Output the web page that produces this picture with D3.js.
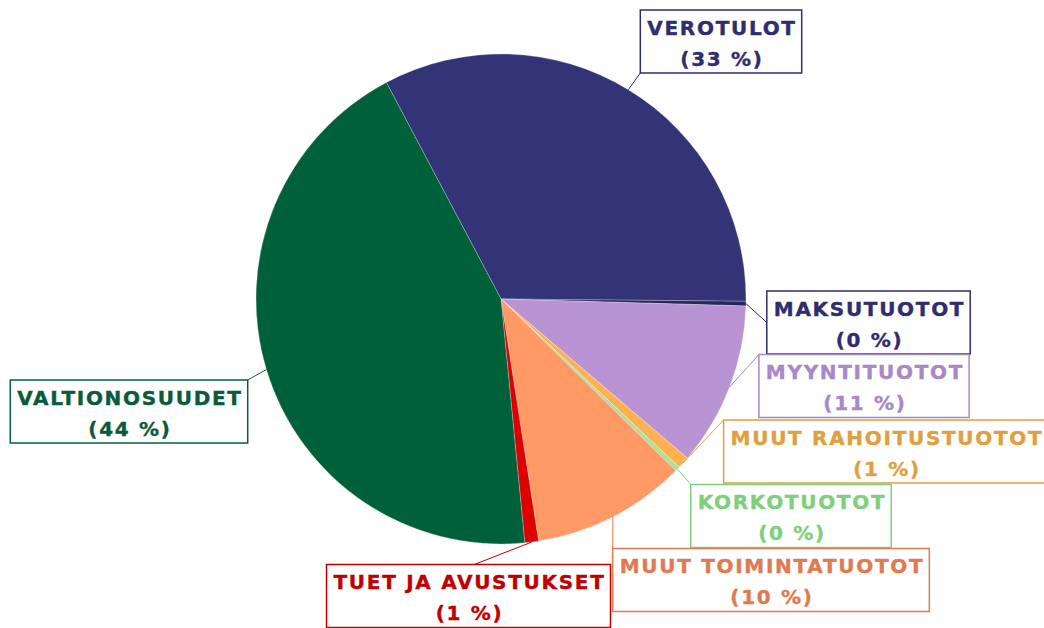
<!DOCTYPE html>
<html lang="fi">
<head>
<meta charset="utf-8">
<title>Tuotot</title>
<script src="https://cdn.jsdelivr.net/npm/d3@7"></script>
<style>
  body { margin: 0; background: #fff; }
  svg text { font-family: "DejaVu Sans", Verdana, sans-serif; font-weight: bold; font-size: 20px; letter-spacing: 1.7px; }
</style>
</head>
<body>
<script>
// data, clockwise from the Verotulot slice
var categories = ["VEROTULOT", "MAKSUTUOTOT", "MYYNTITUOTOT", "MUUT RAHOITUSTUOTOT",
                  "KORKOTUOTOT", "MUUT TOIMINTATUOTOT", "TUET JA AVUSTUKSET", "VALTIONOSUUDET"];
var values = [32.9, 0.3, 10.8, 0.8, 0.3, 10.2, 0.9, 43.8];
var sliceColors = ["#333377", "#26265e", "#b994d4", "#ffb050", "#a8e2a0", "#ff9966", "#dd0000", "#006039"];
var textColors = ["#2e2e6e", "#2e2e6e", "#a788c8", "#e0a040", "#7fcf7f", "#e07a50", "#c00000", "#0b5a3a"];

// label box layout: centre and where the leader line meets the box
var labelLayout = [
    { cx: 721, cy: 41.5, ax: 0, ay: 1 },
    { cx: 868.5, cy: 322.5, ax: 0, ay: 0.5 },
    { cx: 864, cy: 386, ax: 0, ay: 0 },
    { cx: 886, cy: 451.5, ax: 0, ay: 0 },
    { cx: 791, cy: 516, ax: 0, ay: 0 },
    { cx: 771, cy: 580, ax: 0, ay: 0 },
    { cx: 468.5, cy: 596, ax: 0.52, ay: 0 },
    { cx: 129, cy: 411.5, ax: 1, ay: 0 }
];

var w = 1044, h = 628;
var cx = 501, cy = 299, r = 245;
var boxH = 63, padX = 6;

var svg = d3.select("body").append("svg")
    .attr("width", w)
    .attr("height", h);

var pie = d3.pie()
    .sort(null)
    .value(function (d) { return d; })
    .startAngle(-27.9 * Math.PI / 180)
    .endAngle((360 - 27.9) * Math.PI / 180);

var arcs = pie(values);
var arc = d3.arc().innerRadius(0).outerRadius(r);
var edge = d3.arc().innerRadius(r).outerRadius(r);

var g = svg.append("g").attr("transform", "translate(" + cx + "," + cy + ")");

g.selectAll("path")
    .data(arcs)
    .enter()
    .append("path")
    .attr("d", arc)
    .attr("fill", function (d, i) { return sliceColors[i]; })
    .attr("stroke", "rgba(255,255,255,0.5)")
    .attr("stroke-width", 0.5);

// labels
var labels = svg.selectAll("g.label")
    .data(arcs)
    .enter()
    .append("g")
    .attr("class", "label");

labels.each(function (d, i) {
    var lg = d3.select(this);
    var lay = labelLayout[i];
    var col = textColors[i];
    var pct = "(" + Math.round(values[i]) + " %)";

    var t1 = lg.append("text")
        .attr("x", lay.cx + 1)
        .attr("y", lay.cy - 7)
        .attr("text-anchor", "middle")
        .attr("fill", col)
        .attr("stroke", col)
        .attr("stroke-width", 0.4)
        .text(categories[i]);
    lg.append("text")
        .attr("x", lay.cx + 1)
        .attr("y", lay.cy + 24)
        .attr("text-anchor", "middle")
        .attr("fill", col)
        .attr("stroke", col)
        .attr("stroke-width", 0.4)
        .text(pct);

    var bw = t1.node().getComputedTextLength() + 2 * padX;
    var bx = lay.cx - bw / 2, by = lay.cy - boxH / 2;

    lg.insert("rect", "text")
        .attr("x", bx)
        .attr("y", by)
        .attr("width", bw)
        .attr("height", boxH)
        .attr("fill", "#fff")
        .attr("stroke", col)
        .attr("stroke-width", 1.5);

    var p = edge.centroid(d);
    lg.append("line")
        .attr("x1", cx + p[0])
        .attr("y1", cy + p[1])
        .attr("x2", bx + lay.ax * bw)
        .attr("y2", by + lay.ay * boxH)
        .attr("stroke", col)
        .attr("stroke-width", 1);
});
</script>
</body>
</html>
